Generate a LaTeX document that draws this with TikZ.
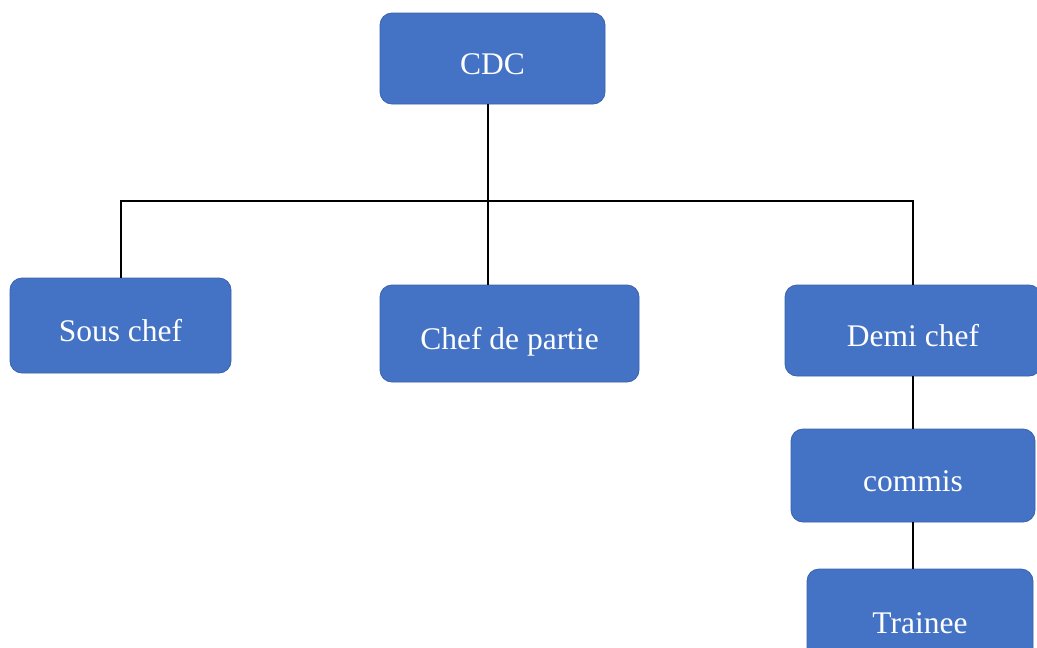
\documentclass[tikz,border=0pt]{standalone}
\usepackage{fontspec}
\setmainfont{Liberation Serif}
\usepackage{tikz}
\usetikzlibrary{positioning,calc}
\definecolor{boxblue}{HTML}{4472C4}
\definecolor{boxedge}{HTML}{3A63AE}

\begin{document}
\begin{tikzpicture}[x=1pt,y=-1pt,
box/.style={rectangle,rounded corners=12pt,draw=boxedge,line width=0.8pt,
  fill=boxblue,text=white,inner sep=0pt,
  font=\fontsize{31.5}{37}\selectfont,text height=32pt,text depth=0pt},
link/.style={draw=black,line width=2pt}]
\useasboundingbox (0,0) rectangle (1037,648);
\clip (0,0) rectangle (1037,648);
\node[box,minimum width=225pt,minimum height=91pt](cdc) at (492.5,58.5){CDC};
\node[box,minimum width=221pt,minimum height=95pt](sous) at (120.5,325.5){Sous chef};
\node[box,minimum width=259pt,minimum height=97pt](partie) at (509.5,333.5){Chef de partie};
\node[box,minimum width=256pt,minimum height=91pt](demi) at (913,330.5){Demi chef};
\node[box,minimum width=244pt,minimum height=93pt](commis) at (913,475.5){commis};
\node[box,minimum width=226pt,minimum height=96pt](trainee) at (920,617){Trainee};
\coordinate (bar) at ([xshift=-5pt]cdc.south |- 0,201);
\path[link]([xshift=-5pt]cdc.south) edge ([xshift=-5pt]cdc.south |- partie.north);
\draw[link](sous.north) |- (bar) -| (demi.north);
\path[link](demi) edge (commis);
\path[link](commis.south) edge (commis.south |- trainee.north);
\end{tikzpicture}
\end{document}
